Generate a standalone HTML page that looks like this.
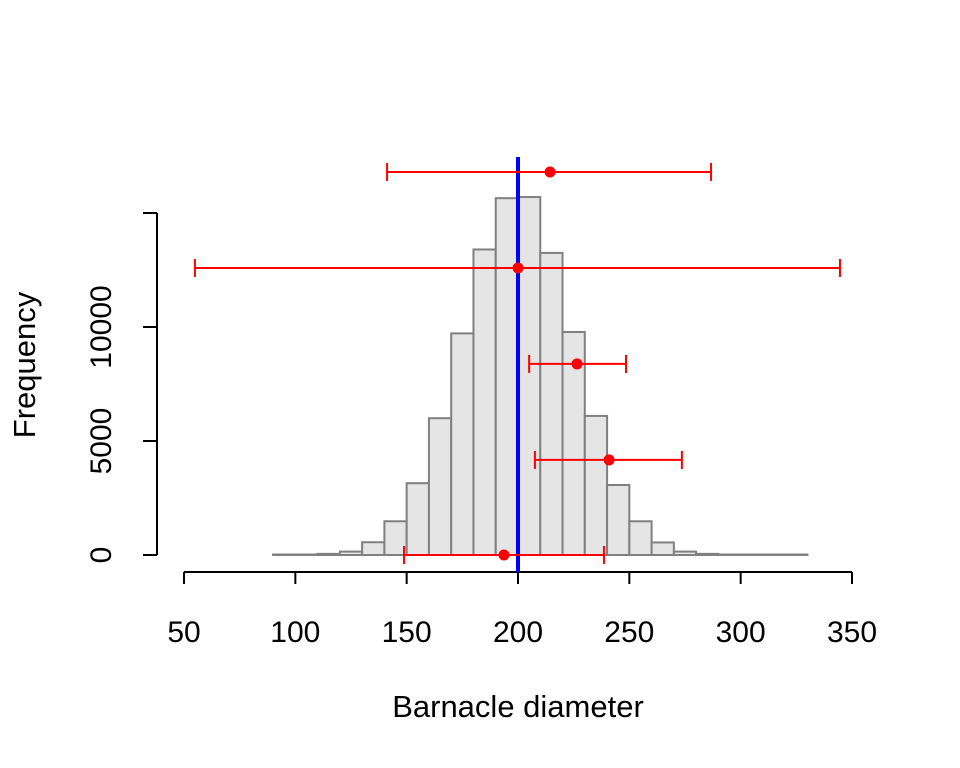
<!DOCTYPE html>
<html><head><meta charset="utf-8"><style>
html,body{margin:0;padding:0;background:#fff}
svg{display:block;font-family:"Liberation Sans",Arial,sans-serif}
</style></head><body>
<svg id="chart" width="960" height="768" viewBox="0 0 960 768">
<g id="bars"></g>
<g id="xaxis"></g>
<g id="yaxis"></g>
<line id="trueline" stroke="#0000ff" stroke-width="4"></line>
<g id="errs"></g>
<text x="518" y="717" font-size="31" text-anchor="middle">Barnacle diameter</text>
<text transform="translate(35,365) rotate(-90)" font-size="31" text-anchor="middle">Frequency</text>
</svg>
<script>
const binStarts=[90,100,110,120,130,140,150,160,170,180,190,200,210,220,230,240,250,260,270,280,290,300,310,320];
const binCounts=[3,10,50,150,560,1480,3150,6000,9720,13400,15650,15700,13250,9780,6100,3070,1480,550,150,50,10,3,1,1];
const xTicks=[50,100,150,200,250,300,350];
const yTicks=[0,5000,10000,15000];
const yTickLabels=["0","5000","10000",""];
const ciMeans=[214.4,200,226.5,240.9,193.7];
const ciLower=[141.2,54.9,205,207.6,148.8];
const ciUpper=[286.7,344.6,248.5,273.6,238.6];
const ciLevels=[16800,12590,8380,4170,0];
const trueMean=200;
const binWidth=10;

const NS="http://www.w3.org/2000/svg";
const sx=v=>184+(v-50)*668/300;
const sy=v=>555-v*0.0228;
function mk(tag,attrs,parent){const e=document.createElementNS(NS,tag);for(const k in attrs)e.setAttribute(k,attrs[k]);parent.appendChild(e);return e;}

const bars=document.getElementById('bars');
binStarts.forEach((b,i)=>{
  const h=Math.max(0.5,sy(0)-sy(binCounts[i]));
  const r=mk('rect',{x:sx(b),y:sy(0)-h,width:sx(b+binWidth)-sx(b),height:h,fill:'#e5e5e5',stroke:'#808080','stroke-width':2},bars);
  
  
});

const xa=document.getElementById('xaxis');
mk('line',{x1:sx(xTicks[0]),x2:sx(xTicks[xTicks.length-1]),y1:572,y2:572,stroke:'#000','stroke-width':2},xa);
xTicks.forEach(t=>{
  mk('line',{x1:sx(t),x2:sx(t),y1:572,y2:584,stroke:'#000','stroke-width':2},xa);
  const tx=mk('text',{x:sx(t),y:642,'font-size':30,'text-anchor':'middle'},xa);
  tx.textContent=t;
  
  
});

const ya=document.getElementById('yaxis');
mk('line',{x1:157,x2:157,y1:sy(yTicks[0]),y2:sy(yTicks[yTicks.length-1]),stroke:'#000','stroke-width':2},ya);
yTicks.forEach((t,i)=>{
  mk('line',{x1:143,x2:157,y1:sy(t),y2:sy(t),stroke:'#000','stroke-width':2},ya);
  const tx=mk('text',{transform:`translate(111,${sy(t)}) rotate(-90)`,'font-size':30,'text-anchor':'middle'},ya);
  tx.textContent=yTickLabels[i];
  
  
});

const tl=document.getElementById('trueline');
tl.setAttribute('x1',sx(trueMean));tl.setAttribute('x2',sx(trueMean));
tl.setAttribute('y1',157);tl.setAttribute('y2',572);

const er=document.getElementById('errs');
ciMeans.forEach((m,i)=>{
  const y=sy(ciLevels[i]);
  const g=mk('g',{},er);
  
  
  mk('line',{x1:sx(ciLower[i]),x2:sx(ciUpper[i]),y1:y,y2:y,stroke:'#ff0000','stroke-width':2},g);
  mk('line',{x1:sx(ciLower[i]),x2:sx(ciLower[i]),y1:y-9,y2:y+9,stroke:'#ff0000','stroke-width':2},g);
  mk('line',{x1:sx(ciUpper[i]),x2:sx(ciUpper[i]),y1:y-9,y2:y+9,stroke:'#ff0000','stroke-width':2},g);
  mk('circle',{cx:sx(m),cy:y,r:5.5,fill:'#ff0000'},g);
});
</script>
</body></html>
